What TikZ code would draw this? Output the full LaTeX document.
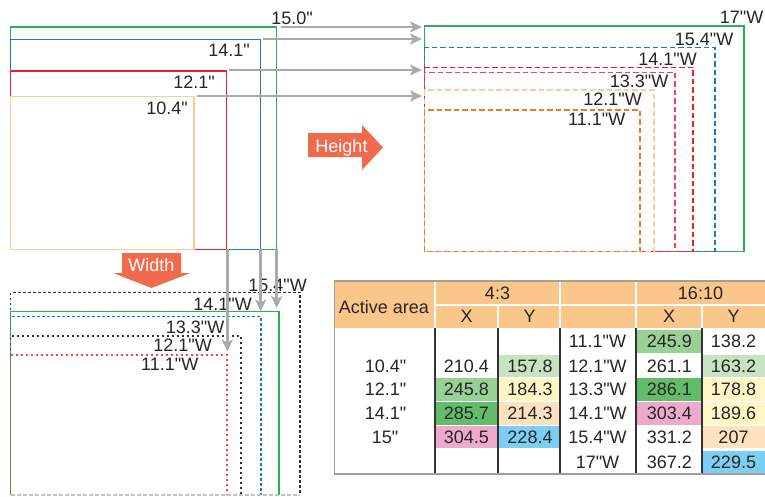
\documentclass[tikz,border=0pt]{standalone}
\usepackage{fontspec}
\setmainfont{Liberation Sans}[Ligatures=TeXOff]
\usetikzlibrary{arrows.meta}
\definecolor{cgreen}{RGB}{40,178,80}
\definecolor{cblue}{RGB}{30,120,196}
\definecolor{cred}{RGB}{232,32,42}
\definecolor{cred2}{RGB}{236,70,80}
\definecolor{clorange}{RGB}{250,204,150}
\definecolor{corange}{RGB}{230,122,45}
\definecolor{cdark}{RGB}{50,50,50}
\definecolor{arrgray}{RGB}{170,170,172}
\definecolor{coral}{RGB}{240,106,76}
\definecolor{hdr}{RGB}{251,198,138}
\definecolor{tgray}{RGB}{160,160,160}
\definecolor{lgreen}{RGB}{198,228,192}
\definecolor{mgreen}{RGB}{152,208,150}
\definecolor{dgreen}{RGB}{98,188,106}
\definecolor{cyellow}{RGB}{255,246,200}
\definecolor{peach}{RGB}{254,226,192}
\definecolor{pink}{RGB}{238,170,205}
\definecolor{lblue}{RGB}{125,206,243}
\newcommand{\cbox}[4]{\fill[#4] (#1,#3-11.3) rectangle (#2,#3+11.3);}
\newcommand{\openrect}[4]{\draw[#4] (#1,495) -- (#1,#2) -- (#3,#2) -- (#3,495);}
\begin{document}
\begin{tikzpicture}[x=1pt,y=-1pt,
  lbl/.style={font=\fontsize{18}{20}\selectfont, inner sep=0pt, anchor=base east, text=black!85},
  cell/.style={font=\fontsize{18}{20}\selectfont, inner sep=0pt, anchor=center, text=black!85},
  garrow/.style={draw=arrgray, line width=2.7pt, -{Stealth[length=12pt,width=11pt,inset=3pt]}},
  rct/.style={line width=1.3pt},
  dsh/.style={line width=1.3pt, dash pattern=on 5.5pt off 3pt},
  dts/.style={line width=1.3pt, dash pattern=on 2.5pt off 2.5pt}]
\useasboundingbox (0,0) rectangle (765,496);
\fill[white] (0,0) rectangle (765,496);

% ---- top-left (4:3) rectangles
\draw[rct, cgreen] (10.7,27) rectangle (276.7,249.3);
\draw[rct, cblue] (10.7,39.3) rectangle (260.7,249.3);
\draw[rct, cred] (10.7,71) rectangle (226.7,249.3);
\draw[rct, clorange] (10.7,96.7) rectangle (194,249.3);
\node[lbl] (l150) at (313,24) {15.0"};
\node[lbl] (l141) at (250,56) {14.1"};
\node[lbl] (l121) at (215,88) {12.1"};
\node[lbl] (l104) at (188,114) {10.4"};

% ---- top-right (16:10) rectangles
\draw[rct, cgreen] (424.3,26) rectangle (744,251.7);
\draw[dsh, cblue] (424.3,47.3) rectangle (715,251.7);
\draw[dsh, cred] (424.3,67.3) rectangle (693,251.7);
\draw[dsh, cred2] (424.3,72.3) rectangle (675,251.7);
\draw[dsh, clorange] (424.3,90) rectangle (654,251.7);
\draw[dsh, corange] (424.3,110) rectangle (640,251.7);
\node[lbl] (r17) at (763.5,23.3) {17"W};
\node[lbl] (r154) at (733.5,45) {15.4"W};
\node[lbl] (r141) at (697,65) {14.1"W};
\node[lbl] (r133) at (668.5,87.3) {13.3"W};
\node[lbl] (r121) at (642,105) {12.1"W};
\node[lbl] (r111) at (625.5,125) {11.1"W};

% ---- bottom-left rectangles (open at the bottom, cut by the page)
\openrect{10.7}{292.3}{300}{dts, cdark}
\openrect{10.7}{311.7}{279}{rct, cgreen}
\openrect{10.7}{316.7}{261}{dts, cblue}
\openrect{10.7}{336}{241}{dts, cdark}
\openrect{10.7}{355}{227}{dts, cred2}
\draw[line width=1.2pt, black!25, dash pattern=on 4pt off 2pt] (10.7,495) -- (300,495);
\node[lbl] (b154) at (307,291.7) {15.4"W};
\node[lbl] (b141) at (252,310) {14.1"W};
\node[lbl] (b133) at (224.5,333) {13.3"W};
\node[lbl] (b121) at (212,351) {12.1"W};
\node[lbl] (b111) at (198.5,370) {11.1"W};

% ---- gray connectors
\coordinate (h1s) at (281,27);   \coordinate (h1e) at (422,27);
\coordinate (h2s) at (263,39);   \coordinate (h2e) at (422,39);
\coordinate (h3s) at (229,70);   \coordinate (h3e) at (422,70);
\coordinate (h4s) at (197,96);   \coordinate (h4e) at (422,96);
\draw[garrow] (h1s) -- (h1e);
\draw[garrow] (h2s) -- (h2e);
\draw[garrow] (h3s) -- (h3e);
\draw[garrow] (h4s) -- (h4e);
\coordinate (v1s) at (227.3,249.3); \coordinate (v1e) at (227.3,351.5);
\coordinate (v2s) at (260.7,249.3); \coordinate (v2e) at (260.7,311.5);
\coordinate (v3s) at (276.7,249.3); \coordinate (v3e) at (276.7,308);
\draw[garrow] (v1s) -- (v1e);
\draw[garrow] (v2s) -- (v2e);
\draw[garrow] (v3s) -- (v3e);

% ---- block arrows
\fill[coral] (308,133) -- (362,133) -- (362,125) -- (383,147.5) -- (362,170) -- (362,157) -- (308,157) -- cycle;
\node[font=\fontsize{18}{20}\selectfont, text=white, inner sep=0pt, anchor=base] (height) at (341.5,152) {Height};
\fill[coral] (122,253) -- (181,253) -- (181,273) -- (190.5,273) -- (151.5,288) -- (113,273) -- (122,273) -- cycle;
\node[font=\fontsize{18}{20}\selectfont, text=white, inner sep=0pt, anchor=base] (width) at (151.5,271) {Width};

% ---- table
\fill[hdr] (334.5,281) rectangle (765,328.3);
\draw[white, line width=1.8pt] (435,281) -- (435,328.3) (560,281) -- (560,328.3) (636,281) -- (636,328.3)
  (498,305) -- (498,328.3) (702,305) -- (702,328.3) (435,305) -- (765,305);
\def\rA{341.5}\def\rB{365.8}\def\rC{389.6}\def\rD{413.5}\def\rE{437}\def\rF{462}
\cbox{498.6}{559.4}{\rB}{lgreen}
\cbox{435.6}{497.4}{\rC}{mgreen}
\cbox{498.6}{559.4}{\rC}{cyellow}
\cbox{435.6}{497.4}{\rD}{dgreen}
\cbox{498.6}{559.4}{\rD}{peach}
\cbox{435.6}{497.4}{\rE}{pink}
\cbox{498.6}{559.4}{\rE}{lblue}
\cbox{636.6}{701.4}{\rA}{mgreen}
\cbox{702.6}{765}{\rB}{lgreen}
\cbox{636.6}{701.4}{\rC}{dgreen}
\cbox{702.6}{765}{\rC}{cyellow}
\cbox{636.6}{701.4}{\rD}{pink}
\cbox{702.6}{765}{\rD}{cyellow}
\cbox{702.6}{765}{\rE}{peach}
\cbox{702.6}{765}{\rF}{lblue}
\draw[black!80, line width=1.2pt] (435,328.3) -- (435,474) (498,328.3) -- (498,474) (560,328.3) -- (560,474)
  (636,328.3) -- (636,474) (702,328.3) -- (702,474);
\draw[tgray, line width=1.5pt] (765,281) -- (334.5,281) -- (334.5,474) -- (765,474);
\node[cell] (hact) at (384,307) {Active area};
\node[cell] (h43) at (497.5,293) {4:3};
\node[cell] (h1610) at (700.5,293) {16:10};
\node[cell] (hx1) at (466.5,316.8) {X};
\node[cell] (hy1) at (529.5,316.8) {Y};
\node[cell] (hx2) at (669.2,316.8) {X};
\node[cell] (hy2) at (733.5,316.8) {Y};
\node[cell] (a1) at (385.5,\rB) {10.4"};
\node[cell] (a2) at (385.5,\rC) {12.1"};
\node[cell] (a3) at (385.5,\rD) {14.1"};
\node[cell] (a4) at (385,\rE) {15"};
\node[cell] (x1) at (466.3,\rB) {210.4};
\node[cell] (x2) at (466.3,\rC) {245.8};
\node[cell] (x3) at (466.3,\rD) {285.7};
\node[cell] (x4) at (466.3,\rE) {304.5};
\node[cell] (y1) at (530,\rB) {157.8};
\node[cell] (y2) at (530,\rC) {184.3};
\node[cell] (y3) at (530,\rD) {214.3};
\node[cell] (y4) at (530,\rE) {228.4};
\node[cell] (w0) at (597.5,\rA) {11.1"W};
\node[cell] (w1) at (597.5,\rB) {12.1"W};
\node[cell] (w2) at (597.5,\rC) {13.3"W};
\node[cell] (w3) at (597.5,\rD) {14.1"W};
\node[cell] (w4) at (597.5,\rE) {15.4"W};
\node[cell] (w5) at (597.5,\rF) {17"W};
\node[cell] (p0) at (669.3,\rA) {245.9};
\node[cell] (p1) at (669.3,\rB) {261.1};
\node[cell] (p2) at (669.3,\rC) {286.1};
\node[cell] (p3) at (669.3,\rD) {303.4};
\node[cell] (p4) at (669.3,\rE) {331.2};
\node[cell] (p5) at (669.3,\rF) {367.2};
\node[cell] (q0) at (733.5,\rA) {138.2};
\node[cell] (q1) at (733.5,\rB) {163.2};
\node[cell] (q2) at (733.5,\rC) {178.8};
\node[cell] (q3) at (733.5,\rD) {189.6};
\node[cell] (q4) at (733.5,\rE) {207};
\node[cell] (q5) at (733.5,\rF) {229.5};
\end{tikzpicture}
\end{document}
